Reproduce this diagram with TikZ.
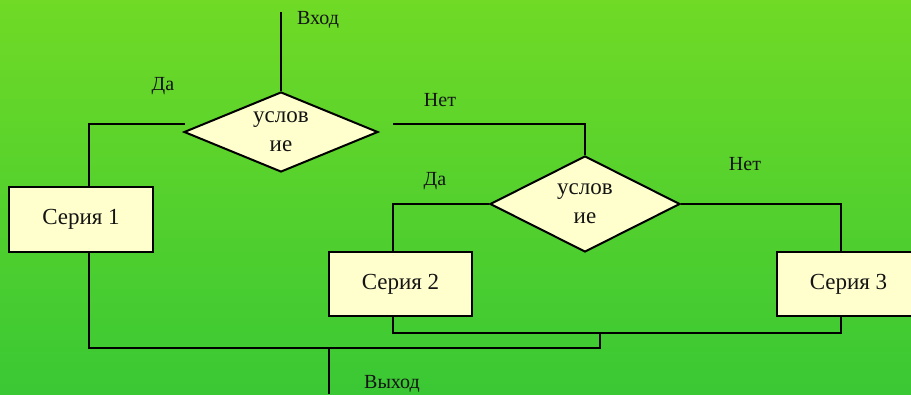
\documentclass[tikz,border=0pt]{standalone}
\usepackage{fontspec}
\setmainfont{Liberation Serif}
\usetikzlibrary{shapes.geometric}
\definecolor{bgtop}{RGB}{112,218,38}
\definecolor{bgbot}{RGB}{58,200,52}
\definecolor{boxfill}{RGB}{255,255,206}
\definecolor{ink}{RGB}{20,20,20}
\tikzset{
  conn/.style={draw=black, line width=2pt},
  sbox/.style={draw=black, line width=2pt, fill=boxfill, rectangle, inner sep=0pt,
    text=ink, font=\fontsize{23}{28}\selectfont},
  dia/.style={draw=black, line width=2pt, fill=boxfill, diamond, inner sep=0pt,
    text=ink, align=center, font=\fontsize{23}{29}\selectfont},
  lbl/.style={text=ink, inner sep=0pt, font=\fontsize{20}{24}\selectfont}
}
\begin{document}
\begin{tikzpicture}[x=1pt,y=-1pt]
\useasboundingbox (0,0) rectangle (911,394);
\clip (0,0) rectangle (911,394);
\shade[top color=bgtop, bottom color=bgbot] (0,0) rectangle (911,394);

% decision nodes
\node[dia, shape aspect=2.4, minimum width=194pt, minimum height=80pt] (D1) at (281,132) {услов\\ие};
\node[dia, shape aspect=2, minimum width=190pt, minimum height=96pt] (D2) at (585,204) {услов\\ие};

% series boxes
\node[sbox, minimum width=144pt, minimum height=65pt] (S1) at (81,219.5) {Серия 1};
\node[sbox, minimum width=143pt, minimum height=64pt] (S2) at (400.5,284) {Серия 2};
\node[sbox, minimum width=143pt, minimum height=64pt] (S3) at (848.5,284) {Серия 3};

% free ends / junctions
\coordinate (in) at (281,12);
\coordinate (d1l) at (185,124);
\coordinate (d1r) at (393,124);
\coordinate (j1) at (600,332);
\coordinate (j2) at (329,348);
\coordinate (out) at (329,394);

% connectors
\draw[conn] (in) -- (D1.north);
\draw[conn] (d1l) -| ([xshift=8pt]S1.north);
\draw[conn] (d1r) -| (D2.north);
\draw[conn] (D2.west) -| ([xshift=-7.5pt]S2.north);
\draw[conn] (D2.east) -| ([xshift=-7.5pt]S3.north);
\draw[conn] ([xshift=-7.5pt]S2.south) -- ++(0,16) -| ([xshift=-7.5pt]S3.south);
\draw[conn] (j1) -- ++(0,16) -| ([xshift=8pt]S1.south);
\draw[conn] (j2) -- (out);

% labels
\node[lbl] (lin)  at (318,20)  {Вход};
\node[lbl] (ly1)  at (163,86)  {Да};
\node[lbl] (ln1)  at (440,100) {Нет};
\node[lbl] (ly2)  at (435,181) {Да};
\node[lbl] (ln2)  at (745,164) {Нет};
\node[lbl] (lout) at (392,384) {Выход};
\end{tikzpicture}
\end{document}
